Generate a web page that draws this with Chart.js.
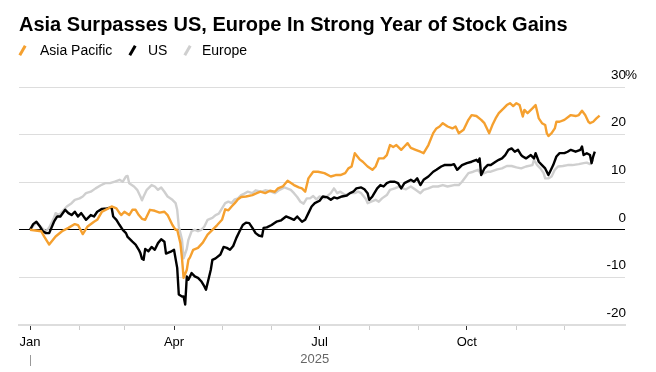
<!DOCTYPE html>
<html>
<head>
<meta charset="UTF-8">
<title>Asia Surpasses US, Europe In Strong Year of Stock Gains</title>
<script src="https://cdn.jsdelivr.net/npm/chart.js@4"></script>
<style>
    body { margin: 0; background: #fff; font-family: "Liberation Sans", Arial, sans-serif; color: #000; }
    #wrap { position: relative; width: 656px; height: 372px; overflow: hidden; }
    #chart { position: absolute; left: 0; top: 0; }
    h1 { position: absolute; left: 19px; top: 14px; margin: 0; font-size: 20px; line-height: 20px; font-weight: bold; white-space: nowrap; }
    .key { position: absolute; top: 43px; font-size: 14px; line-height: 14px; white-space: nowrap; }
    .swatch { position: absolute; top: 45px; width: 3px; height: 11px; transform: rotate(30deg); }
</style>
</head>
<body>
<div id="wrap">
    <canvas id="chart" width="656" height="372"></canvas>
    <h1>Asia Surpasses US, Europe In Strong Year of Stock Gains</h1>
    <div class="swatch" style="left:21px; background:#f5a02f"></div>
    <div class="key" style="left:40px">Asia Pacific</div>
    <div class="swatch" style="left:131px; background:#000"></div>
    <div class="key" style="left:148px">US</div>
    <div class="swatch" style="left:186px; background:#cfcfcf"></div>
    <div class="key" style="left:202px">Europe</div>
</div>
<script>
    // days since Jan 1 2025, % change YTD
    const asiaDays = [0, 7, 9, 12, 16, 20, 24, 28, 30, 33, 36, 40, 42, 45, 49, 51, 54, 56, 57, 59, 62, 64, 66, 68, 70, 72, 75, 78, 81, 84, 86, 89, 91, 92, 94, 95, 96, 98, 99, 100, 102, 105, 108, 111, 114, 117, 120, 122, 124, 126, 128, 130, 132, 135, 139, 141, 144, 147, 150, 153, 155, 158, 161, 165, 168, 170, 172, 174, 177, 180, 184, 188, 191, 194, 197, 199, 201, 203, 206, 208, 211, 214, 216, 218, 221, 223, 225, 227, 229, 232, 234, 236, 238, 241, 244, 246, 249, 252, 254, 256, 258, 261, 264, 266, 268, 271, 274, 276, 279, 282, 284, 287, 289, 291, 293, 296, 298, 300, 302, 304, 306, 308, 309, 311, 314, 316, 318, 320, 322, 323, 324, 326, 328, 329, 331, 334, 338, 341, 343, 345, 347, 349, 350, 352, 354, 356];
    const asiaValues = [0.0, -0.3, -1.5, -3.1, -1.4, -0.3, 0.4, 1.2, 1.0, -0.9, 0.7, 1.7, 2.1, 3.8, 4.5, 4.9, 4.5, 3.5, 3.1, 3.8, 3.1, 4.2, 4.2, 3.1, 2.3, 2.1, 4.2, 4.0, 3.6, 3.8, 3.1, 1.0, 0.0, 0.0, -2.8, -6.0, -10.1, -8.4, -6.3, -5.8, -4.2, -3.8, -2.7, -1.0, 0.0, 1.0, 2.1, 4.3, 4.1, 4.9, 5.6, 6.4, 6.9, 7.0, 7.3, 7.6, 8.0, 7.7, 8.2, 8.0, 8.7, 9.1, 10.3, 9.4, 8.9, 8.7, 8.0, 10.8, 12.2, 12.2, 11.9, 11.2, 11.5, 11.5, 11.9, 12.9, 13.3, 16.1, 14.8, 14.3, 13.3, 12.6, 13.3, 15.0, 15.0, 15.7, 17.8, 17.4, 17.8, 16.8, 17.5, 18.2, 17.2, 16.8, 16.4, 16.1, 17.8, 20.3, 21.3, 21.7, 22.4, 21.7, 21.3, 21.7, 20.3, 21.0, 23.1, 24.1, 23.9, 23.1, 22.4, 20.3, 22.0, 23.4, 24.5, 25.5, 26.2, 26.6, 26.0, 26.6, 26.2, 23.8, 25.2, 24.5, 25.5, 26.2, 23.4, 22.4, 22.0, 20.3, 19.7, 20.3, 21.3, 22.7, 22.7, 23.1, 24.1, 23.9, 24.1, 25.0, 24.1, 22.7, 22.4, 22.7, 23.4, 24.0];

    const usDays = [0, 2, 4, 6, 8, 10, 12, 15, 17, 19, 22, 24, 26, 28, 30, 32, 35, 38, 40, 42, 45, 48, 51, 52, 54, 56, 58, 60, 61, 64, 66, 68, 69, 70, 71, 72, 74, 76, 78, 80, 82, 84, 85, 88, 90, 92, 93, 95, 96, 97, 98, 99, 101, 103, 105, 107, 109, 110, 113, 114, 116, 119, 121, 123, 125, 127, 129, 131, 133, 135, 137, 139, 141, 143, 145, 146, 148, 151, 154, 157, 160, 163, 165, 167, 170, 172, 174, 176, 178, 181, 183, 186, 188, 190, 192, 195, 198, 200, 202, 204, 207, 209, 211, 212, 214, 217, 219, 221, 223, 225, 228, 230, 232, 234, 238, 240, 242, 244, 246, 249, 252, 254, 257, 259, 263, 265, 267, 270, 273, 276, 279, 280, 281, 282, 284, 286, 288, 291, 293, 295, 297, 299, 301, 303, 305, 307, 308, 310, 313, 315, 316, 318, 320, 322, 324, 325, 327, 329, 331, 334, 336, 338, 341, 344, 345, 346, 348, 350, 351, 352, 353];
    const usValues = [0.0, 1.2, 1.7, 0.8, -0.3, -0.7, -0.7, 1.7, 2.8, 2.8, 4.2, 3.5, 3.1, 3.8, 2.8, 3.5, 2.1, 3.1, 2.8, 3.8, 4.4, 4.5, 4.7, 2.8, 2.1, 1.0, 0.0, -0.7, -1.5, -2.5, -3.1, -4.2, -4.9, -6.1, -6.3, -4.0, -4.5, -3.6, -4.2, -2.8, -2.0, -2.5, -5.0, -4.6, -4.2, -8.0, -13.6, -14.0, -14.0, -15.7, -9.8, -10.5, -9.1, -9.8, -10.1, -10.8, -11.9, -12.6, -8.4, -6.3, -6.0, -5.2, -3.6, -3.8, -4.2, -3.4, -1.7, -0.3, 1.0, 1.5, 1.4, 0.4, -0.7, -1.2, -1.4, 0.4, 0.5, 1.0, 1.7, 2.0, 2.8, 2.4, 2.1, 2.8, 1.7, 2.1, 3.5, 4.9, 5.6, 6.1, 7.0, 6.8, 6.3, 6.8, 6.6, 7.0, 7.2, 7.7, 8.0, 8.7, 8.9, 8.5, 7.7, 6.3, 7.0, 8.7, 9.4, 9.1, 9.8, 10.1, 10.1, 9.8, 8.7, 9.8, 10.5, 10.1, 10.8, 9.4, 10.5, 11.2, 12.2, 12.6, 13.3, 13.6, 13.6, 13.8, 12.6, 13.6, 14.0, 14.3, 14.7, 14.3, 15.0, 11.5, 12.9, 13.6, 13.6, 14.3, 14.7, 15.0, 15.7, 16.8, 17.1, 16.4, 16.8, 15.7, 15.4, 15.0, 15.7, 15.0, 16.1, 14.3, 13.6, 12.9, 11.5, 12.2, 13.6, 15.4, 16.1, 16.1, 16.4, 16.8, 16.4, 16.8, 17.5, 15.7, 16.1, 15.7, 14.0, 15.4, 16.4];

    const europeDays = [0, 2, 4, 6, 8, 10, 12, 15, 16, 18, 20, 23, 26, 28, 31, 33, 35, 38, 41, 44, 47, 50, 53, 56, 58, 60, 61, 62, 65, 67, 69, 70, 71, 73, 76, 78, 80, 82, 84, 86, 89, 91, 92, 93, 95, 96, 98, 99, 101, 103, 105, 107, 109, 111, 114, 116, 118, 120, 122, 124, 126, 128, 130, 132, 134, 136, 139, 141, 143, 145, 147, 150, 153, 156, 159, 163, 165, 167, 169, 171, 173, 175, 177, 179, 181, 184, 188, 190, 192, 194, 197, 200, 203, 205, 207, 210, 211, 214, 216, 218, 220, 223, 225, 228, 231, 233, 235, 238, 241, 244, 246, 249, 252, 255, 258, 261, 265, 268, 270, 272, 274, 277, 280, 282, 284, 286, 288, 292, 295, 298, 301, 304, 307, 310, 314, 315, 317, 319, 321, 322, 324, 326, 328, 330, 333, 336, 339, 343, 346, 348, 350, 352];
    const europeValues = [0.0, 0.8, 1.5, 0.9, 0.2, -0.3, 0.5, 2.5, 3.5, 3.1, 3.8, 4.9, 5.6, 6.3, 6.6, 7.0, 7.7, 8.0, 8.7, 9.3, 9.8, 9.8, 10.1, 10.5, 10.1, 11.2, 11.3, 9.8, 9.1, 8.4, 7.0, 6.2, 7.0, 8.4, 9.4, 9.1, 8.4, 8.9, 8.0, 7.0, 6.3, 5.6, 4.2, 0.7, -2.1, -6.0, -4.0, -2.1, -0.3, 0.0, -0.3, 0.0, 0.7, 2.1, 2.5, 3.1, 3.4, 4.5, 5.6, 5.9, 5.6, 6.4, 6.6, 7.3, 7.6, 8.0, 7.7, 8.3, 8.1, 8.0, 8.3, 8.1, 7.7, 8.4, 8.9, 8.4, 7.7, 6.9, 5.9, 5.5, 6.6, 6.6, 7.1, 6.4, 7.0, 6.6, 7.7, 8.7, 7.7, 8.0, 7.3, 7.7, 7.7, 8.0, 7.7, 6.4, 5.6, 6.0, 6.3, 5.9, 6.6, 7.3, 8.4, 8.7, 9.1, 8.7, 8.5, 9.1, 8.4, 7.7, 8.4, 8.7, 9.1, 9.1, 9.4, 9.1, 9.4, 9.4, 10.1, 11.0, 11.9, 12.2, 12.6, 11.7, 11.9, 12.2, 12.2, 12.7, 12.9, 13.4, 13.4, 13.1, 12.9, 13.3, 13.6, 14.7, 13.6, 12.9, 11.9, 10.8, 10.8, 11.2, 12.6, 13.3, 13.4, 13.6, 13.6, 13.8, 14.0, 14.1, 13.8, 14.7];

    // month starts (day of year) and their labels
    const monthDays = [0, 31, 59, 90, 120, 151, 181, 212, 243, 273, 304, 334];
    const monthLabels = ['Jan', '', '', 'Apr', '', '', 'Jul', '', '', 'Oct', '', ''];
    const yTicks = [-20, -10, 0, 10, 20, 30];
    const yearLabel = '2025';

    const toPoints = (days, vals) => days.map((d, i) => ({ x: d, y: vals[i] }));

    // year label under the axis + the % after the top tick
    const extras = {
        id: 'extras',
        afterDraw(chart) {
            const ctx = chart.ctx;
            const x = chart.scales.x;
            const y = chart.scales.y;
            ctx.save();
            const x0 = x.getPixelForValue(0);
            ctx.strokeStyle = '#999';
            ctx.lineWidth = 1;
            ctx.beginPath();
            ctx.moveTo(Math.round(x0) + 0.5, 355);
            ctx.lineTo(Math.round(x0) + 0.5, 366);
            ctx.stroke();
            ctx.fillStyle = '#666';
            ctx.font = '13px "Liberation Sans", Arial, sans-serif';
            ctx.textAlign = 'center';
            ctx.textBaseline = 'middle';
            const mid = (x.getPixelForValue(0) + x.getPixelForValue(356)) / 2;
            ctx.fillText(yearLabel, mid, 359);
            ctx.fillStyle = '#000';
            ctx.font = '13.5px "Liberation Sans", Arial, sans-serif';
            ctx.textAlign = 'left';
            ctx.fillText('%', chart.chartArea.right, y.getPixelForValue(30) - 12);
            ctx.restore();
        }
    };

    new Chart(document.getElementById('chart'), {
        type: 'line',
        data: {
            datasets: [
                { label: 'Asia Pacific', data: toPoints(asiaDays, asiaValues), borderColor: '#f5a02f', order: 1 },
                { label: 'US', data: toPoints(usDays, usValues), borderColor: '#000000', order: 2 },
                { label: 'Europe', data: toPoints(europeDays, europeValues), borderColor: '#cfcfcf', order: 3 }
            ]
        },
        options: {
            responsive: false,
            animation: false,
            layout: { padding: { left: 19, top: 87, right: 0, bottom: 0 } },
            elements: {
                point: { radius: 0 },
                line: { borderWidth: 2.4, tension: 0, borderJoinStyle: 'round' }
            },
            plugins: { legend: { display: false }, tooltip: { enabled: false } },
            scales: {
                x: {
                    type: 'linear',
                    min: -6.875,
                    max: 371.875,
                    afterBuildTicks: (axis) => { axis.ticks = monthDays.map(v => ({ value: v })); },
                    afterFit: (axis) => { axis.height = 47; },
                    grid: {
                        drawOnChartArea: false,
                        drawTicks: true,
                        tickLength: 5,
                        tickColor: (c) => monthLabels[c.index] ? '#333' : '#ccc'
                    },
                    border: { display: true, color: '#dddddd', width: 2 },
                    ticks: {
                        autoSkip: false,
                        maxRotation: 0,
                        padding: 5,
                        color: '#000',
                        font: { family: '"Liberation Sans", Arial, sans-serif', size: 13 },
                        callback: (v, i) => monthLabels[i]
                    }
                },
                y: {
                    position: 'right',
                    min: -20,
                    max: 30,
                    afterBuildTicks: (axis) => { axis.ticks = yTicks.map(v => ({ value: v })); },
                    afterFit: (axis) => { axis.width = 31; },
                    grid: {
                        drawTicks: false,
                        color: (c) => c.tick.value === 0 ? '#000' : '#dddddd',
                        lineWidth: 1
                    },
                    border: { display: false },
                    ticks: {
                        mirror: true,
                        padding: 1,
                        labelOffset: -12,
                        color: '#000',
                        font: { family: '"Liberation Sans", Arial, sans-serif', size: 13.5 },
                        callback: (v) => String(v)
                    }
                }
            }
        },
        plugins: [extras]
    });
</script>
</body>
</html>
